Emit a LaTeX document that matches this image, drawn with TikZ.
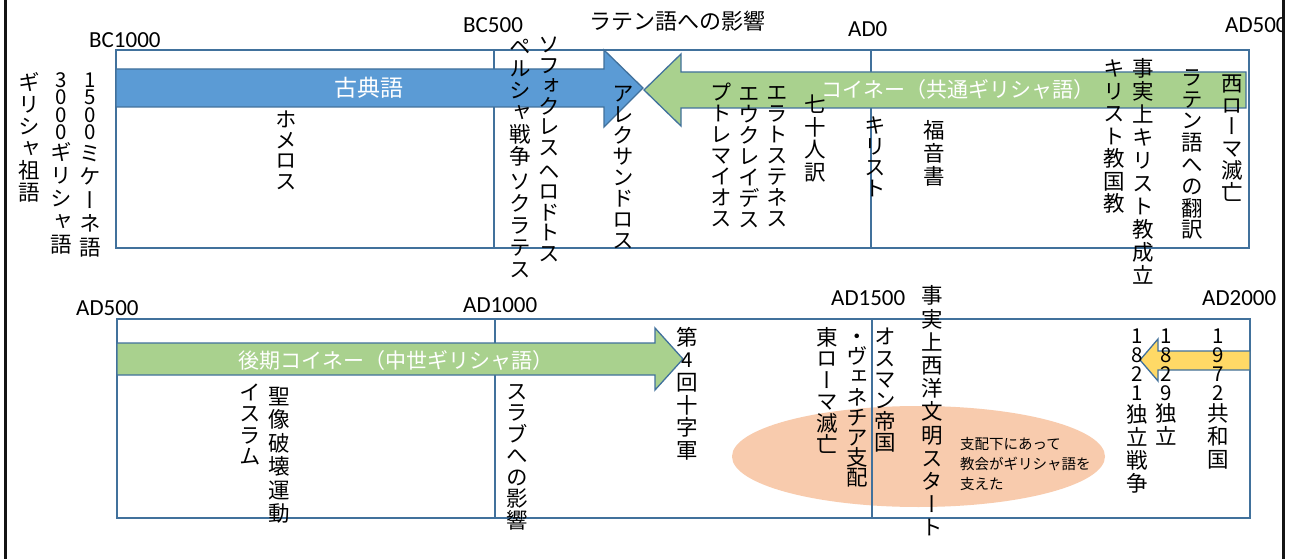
\documentclass[tikz,border=0pt]{standalone}
\usepackage{fontspec}
\setmainfont{Carlito}
\newfontfamily\jp{Noto Sans CJK JP}
\newfontfamily\jv[RawFeature={+vert}]{Noto Sans CJK JP}
\definecolor{boxblue}{HTML}{41719C}
\definecolor{arrblue}{HTML}{5B9BD5}
\definecolor{arrgreen}{HTML}{A9D18E}
\definecolor{arryellow}{HTML}{FFD966}
\definecolor{peach}{HTML}{F8CBAD}
\newdimen\vtp \newdimen\vtd \newdimen\vtg
\def\vtstop{\vtstop}
\def\vgap{\vgap}
\def\vtchar#1{\hbox to 1em{\hss\vbox to \vtp{\vss\hbox{\vrule height .88em depth .12em width 0pt\relax#1}\vss}\hss}}
\def\vtdigit#1{\hbox to 1em{\hss\vbox to \vtd{\vss\hbox{\fontsize{20.5pt}{20.5pt}\selectfont\vrule height .74em depth 0pt width 0pt\relax#1}\vss}\hss}}
\def\vtloop#1{%
  \ifx#1\vtstop\let\vtnext\relax
  \else
    \ifx#1\vgap\vskip\vtg
    \else
      \ifnum`#1<256 \vtdigit{#1}\else\vtchar{#1}\fi
    \fi
    \let\vtnext\vtloop
  \fi\vtnext}
\newcommand\V[3][0]{\vtp=#2pt\relax\ifdim#1pt=0pt \vtd=0.7\vtp\else\vtd=#1pt\fi\vtg=3.5pt\relax\vbadness=10000\vfuzz=\maxdimen\vbox{\offinterlineskip\vtloop#3\vtstop}}
\begin{document}
\begin{tikzpicture}[x=1pt,y=-1pt,
  frame/.style={draw=boxblue,line width=1.4pt},
  shaft/.style={draw=boxblue,line width=1.3pt,line join=miter},
  vcol/.style={anchor=north,inner sep=0pt,font=\jv\fontsize{21.5pt}{21.5pt}\selectfont},
  jt/.style={anchor=base west,inner sep=0pt},
  lab/.style={anchor=base west,inner sep=0pt,font=\fontsize{23pt}{27pt}\selectfont}]
\useasboundingbox (0,0) rectangle (1294,559);
\fill[white] (0,0) rectangle (1294,559);
% ellipse behind
\fill[peach] (918.5,456.5) ellipse [x radius=186.5, y radius=50.5];
% frames
\draw[frame] (116,50) rectangle (1249,248);
\draw[frame] (494,50) -- (494,248);
\draw[frame] (871,50) -- (871,248);
\draw[frame] (117,319) rectangle (1250,518);
\draw[frame] (495,319) -- (495,518);
\draw[frame] (872,319) -- (872,518);
% arrows
\filldraw[shaft,fill=arrblue] (116,69) -- (604,69) -- (604,50) -- (643,88) -- (604,127) -- (604,107) -- (116,107) -- cycle;
\filldraw[shaft,fill=arrgreen] (1246,72) -- (681,72) -- (681,54) -- (644,90) -- (681,126) -- (681,108) -- (1246,108) -- cycle;
\filldraw[shaft,fill=arrgreen] (117,343) -- (655,343) -- (655,328) -- (683,359) -- (655,390) -- (655,375) -- (117,375) -- cycle;
\filldraw[shaft,fill=arryellow] (1250,351) -- (1158,351) -- (1158,339) -- (1140,360) -- (1158,381) -- (1158,370) -- (1250,370) -- cycle;
% horizontal texts
\node[jt,font=\jp\fontsize{22pt}{26pt}\selectfont] (title) at (589,30) {ラテン語への影響};
\node[jt,text=white,font=\jp\fontsize{23pt}{27pt}\selectfont] (koten) at (334,96.3) {古典語};
\node[jt,text=white,font=\jp\fontsize{21pt}{25pt}\selectfont] (koine) at (821,97.5) {コイネー（共通ギリシャ語）};
\node[jt,text=white,font=\jp\fontsize{21pt}{25pt}\selectfont] (latek) at (238,368) {後期コイネー（中世ギリシャ語）};
\node[jt,font=\jp\fontsize{14.5pt}{20pt}\selectfont] (note) at (960,449.5) {\vtop{\baselineskip=20pt\lineskiplimit=-20pt\hbox{支配下にあって}\hbox{教会がギリシャ語を}\hbox{支えた}}};
% era labels
\node[lab] (bc1000) at (89,48) {BC1000};
\node[lab] (bc500) at (463,33) {BC500};
\node[lab] (ad0) at (848,37) {AD0};
\begin{scope}
\clip (0,0) rectangle (1282,559);
\node[lab] (ad500a) at (1225,33) {AD500};
\end{scope}
\node[lab] (ad500b) at (76,315) {AD500};
\node[lab] (ad1000) at (463,312) {AD1000};
\node[lab] (ad1500) at (831,305) {AD1500};
\node[lab] (ad2000) at (1202,305) {AD2000};
% vertical columns, top
\node[vcol] (sogo) at (29,71) {\V{22}{ギリシャ祖語}};
\node[vcol] (g3000) at (61.5,71) {\V[17.5]{23}{3000ギリシャ語}};
\node[vcol] (m1500) at (90,71) {\V[17.5]{23.5}{1500ミケーネ語}};
\node[vcol] (homer) at (286,109) {\V{20.5}{ホメロス}};
\node[vcol] (persia) at (520,35) {\V{22}{ペルシャ戦争\vgap ソクラテス}};
\node[vcol] (soph) at (549,34) {\V{20.5}{ソフォクレス\vgap ヘロドトス}};
\node[vcol] (alex) at (623,83) {\V{21}{アレクサンドロス}};
\node[vcol] (ptol) at (721,82) {\V{21}{プトレマイオス}};
\node[vcol] (eukl) at (749,83) {\V{21}{エウクレイデス}};
\node[vcol] (erat) at (777,82) {\V{21}{エラトステネス}};
\node[vcol] (sept) at (815,93) {\V{22.5}{七十人訳}};
\node[vcol] (christ) at (875,115) {\V{21}{キリスト}};
\node[vcol] (gospel) at (934,119) {\V{23}{福音書}};
\node[vcol] (kokkyo) at (1114,57) {\V{22.5}{キリスト教国教}};
\node[vcol] (seiritsu) at (1143,57) {\V{23}{事実上キリスト教成立}};
\node[vcol] (latin) at (1192,66) {\V{21.8}{ラテン語への翻訳}};
\node[vcol] (westrome) at (1232,72) {\V{21.8}{西ローマ滅亡}};
% vertical columns, bottom
\node[vcol] (islam) at (250,381) {\V{21.5}{イスラム}};
\node[vcol] (icon) at (279,384) {\V{23.5}{聖像破壊運動}};
\node[vcol] (slav) at (517,380) {\V{21.5}{スラブへの影響}};
\node[vcol] (crusade) at (687,326) {\V[22.5]{22.5}{第4回十字軍}};
\node[vcol] (eastrome) at (827,326) {\V{21.5}{東ローマ滅亡}};
\node[vcol] (venice) at (857,326) {\V{20.2}{・ヴェネチア支配}};
\node[vcol] (ottoman) at (885,326) {\V{21.2}{オスマン帝国}};
\node[vcol] (west) at (932,284) {\V{23.2}{事実上西洋文明スタート}};
\node[vcol] (war1821) at (1137,326) {\V[19]{23.3}{1821独立戦争}};
\node[vcol] (ind1829) at (1166,326) {\V[19]{23}{1829独立}};
\node[vcol] (rep1972) at (1218,326) {\V[19]{23}{1972共和国}};
% side bars
\fill[black!92] (3.5,0) rectangle (7,559);
\fill[black!92] (1281.5,0) rectangle (1285,559);
\end{tikzpicture}
\end{document}
